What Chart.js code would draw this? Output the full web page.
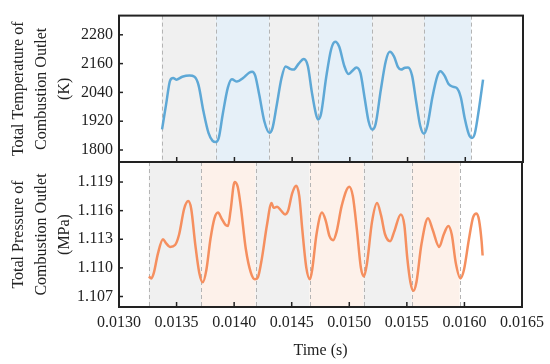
<!DOCTYPE html>
<html>
<head>
<meta charset="utf-8">
<script src="https://cdn.jsdelivr.net/npm/chart.js@4.4.1/dist/chart.umd.min.js"></script>
<style>
  html, body { margin: 0; padding: 0; background: #fff; }
  #wrap { position: relative; width: 550px; height: 364px; }
  #wrap canvas { position: absolute; left: 0; top: 0; }
</style>
</head>
<body>
<div id="wrap">
  <canvas id="grafikTemp" width="550" height="364"></canvas>
  <canvas id="grafikPress" width="550" height="364"></canvas>
</div>
<script>
// time axis (s)
const timeTicks = [0.0130, 0.0135, 0.0140, 0.0145, 0.0150, 0.0155, 0.0160, 0.0165];

// total temperature of combustion outlet (K)
const tempTicks = [1800, 1920, 2040, 2160, 2280];
const tempTime = [
  0.013373, 0.013408, 0.013443, 0.013469, 0.013496, 0.013548, 0.013610, 0.013654,
  0.013689, 0.013732, 0.013776, 0.013811, 0.013838, 0.013864, 0.013899, 0.013943,
  0.013978, 0.014022, 0.014075, 0.014127, 0.014154, 0.014180, 0.014215, 0.014259,
  0.014303, 0.014329, 0.014364, 0.014408, 0.014443, 0.014487, 0.014513, 0.014557,
  0.014601, 0.014636, 0.014671, 0.014706, 0.014724, 0.014750, 0.014794, 0.014838,
  0.014873, 0.014908, 0.014952, 0.014987, 0.015022, 0.015057, 0.015092, 0.015127,
  0.015162, 0.015195, 0.015224, 0.015268, 0.015311, 0.015346, 0.015382, 0.015417,
  0.015443, 0.015478, 0.015504, 0.015539, 0.015575, 0.015610, 0.015642, 0.015671,
  0.015715, 0.015759, 0.015785, 0.015820, 0.015855, 0.015890, 0.015925, 0.015961,
  0.015996, 0.016031, 0.016057, 0.016083, 0.016118, 0.016154,
];
const tempValue = [
  1886, 1990, 2090, 2100, 2093, 2105, 2110, 2105,
  2070, 1960, 1870, 1838, 1833, 1850, 1950, 2060,
  2095, 2085, 2100, 2122, 2126, 2110, 2030, 1920,
  1872, 1890, 1980, 2100, 2148, 2137, 2135, 2160,
  2179, 2150, 2040, 1950, 1927, 1950, 2100, 2220,
  2251, 2230, 2150, 2117, 2130, 2144, 2120, 2020,
  1920, 1885, 1910, 2050, 2170, 2209, 2190, 2145,
  2135, 2143, 2144, 2110, 2000, 1900, 1868, 1900,
  2020, 2110, 2128, 2110, 2075, 2064, 2059, 2020,
  1930, 1865, 1850, 1870, 1970, 2093,
];
const tempBands = [0.013370, 0.013838, 0.014303, 0.014724, 0.015195, 0.015642, 0.016051];

// total pressure of combustion outlet (MPa)
const pressTicks = [1.107, 1.110, 1.113, 1.116, 1.119];
const pressTime = [
  0.013259, 0.013281, 0.013303, 0.013338, 0.013382, 0.013408, 0.013443, 0.013487,
  0.013522, 0.013566, 0.013601, 0.013627, 0.013662, 0.013697, 0.013728, 0.013759,
  0.013794, 0.013829, 0.013860, 0.013890, 0.013925, 0.013947, 0.013969, 0.014004,
  0.014031, 0.014057, 0.014101, 0.014145, 0.014180, 0.014206, 0.014241, 0.014285,
  0.014325, 0.014342, 0.014373, 0.014408, 0.014443, 0.014469, 0.014504, 0.014539,
  0.014566, 0.014592, 0.014627, 0.014658, 0.014680, 0.014715, 0.014763, 0.014794,
  0.014829, 0.014860, 0.014890, 0.014934, 0.015000, 0.015031, 0.015066, 0.015101,
  0.015127, 0.015154, 0.015197, 0.015241, 0.015276, 0.015311, 0.015355, 0.015390,
  0.015447, 0.015478, 0.015504, 0.015531, 0.015557, 0.015583, 0.015627, 0.015684,
  0.015724, 0.015781, 0.015820, 0.015860, 0.015890, 0.015925, 0.015965, 0.015996,
  0.016039, 0.016075, 0.016105, 0.016127, 0.016149, 0.016158,
];
const pressValue = [
  1.1091, 1.1089, 1.1095, 1.1115, 1.1130, 1.1126, 1.1122, 1.1124,
  1.1135, 1.1162, 1.1170, 1.1162, 1.1125, 1.1095, 1.1085, 1.1098,
  1.1130, 1.1152, 1.1158, 1.1152, 1.1145, 1.1144, 1.1160, 1.1190,
  1.1185, 1.1165, 1.1120, 1.1095, 1.1088, 1.1090, 1.1110, 1.1145,
  1.1168, 1.1163, 1.1164, 1.1160, 1.1156, 1.1160, 1.1178, 1.1186,
  1.1175, 1.1140, 1.1100, 1.1088, 1.1100, 1.1135, 1.1158, 1.1150,
  1.1133, 1.1129, 1.1138, 1.1165, 1.1185, 1.1175, 1.1140, 1.1100,
  1.1091, 1.1105, 1.1148, 1.1168, 1.1155, 1.1135, 1.1128, 1.1138,
  1.1156, 1.1145, 1.1110, 1.1085, 1.1076, 1.1085, 1.1125, 1.1152,
  1.1140, 1.1122, 1.1135, 1.1144, 1.1135, 1.1105, 1.1089, 1.1098,
  1.1130, 1.1153, 1.1157, 1.1150, 1.1128, 1.1113,
];
const pressBands = [0.013259, 0.013712, 0.014186, 0.014656, 0.015125, 0.015542, 0.015958];

const fontFamily = "'Liberation Serif', 'Times New Roman', serif";
const textColor = "#222";

// shaded bands, dashed separators, inner ticks and the frame
const panelPlugin = {
  id: "panel",
  beforeDatasetsDraw(chart, args, opts) {
    const { ctx, chartArea } = chart;
    const xs = chart.scales.x;
    ctx.save();
    for (let i = 0; i < opts.bands.length - 1; i++) {
      const a = xs.getPixelForValue(opts.bands[i]);
      const b = xs.getPixelForValue(opts.bands[i + 1]);
      ctx.fillStyle = opts.colors[i % 2];
      ctx.fillRect(a, chartArea.top, b - a, chartArea.bottom - chartArea.top);
    }
    ctx.strokeStyle = "#b4b4b4";
    ctx.lineWidth = 1;
    ctx.setLineDash([4, 3]);
    opts.bands.forEach((t) => {
      const x = Math.round(xs.getPixelForValue(t)) + 0.5;
      ctx.beginPath();
      ctx.moveTo(x, chartArea.top);
      ctx.lineTo(x, chartArea.bottom);
      ctx.stroke();
    });
    ctx.restore();
  },
  afterDraw(chart) {
    const { ctx, chartArea } = chart;
    const xs = chart.scales.x;
    const ys = chart.scales.y;
    ctx.save();
    ctx.strokeStyle = "#222";
    ctx.lineWidth = 1.5;
    timeTicks.forEach((t) => {
      const x = xs.getPixelForValue(t);
      if (x <= chartArea.left + 2 || x >= chartArea.right - 2) return;
      ctx.beginPath();
      ctx.moveTo(x, chartArea.bottom);
      ctx.lineTo(x, chartArea.bottom - 5);
      ctx.stroke();
    });
    ys.ticks.forEach((tk) => {
      const y = ys.getPixelForValue(tk.value);
      ctx.beginPath();
      ctx.moveTo(chartArea.left, y);
      ctx.lineTo(chartArea.left + 4, y);
      ctx.stroke();
    });
    ctx.lineWidth = 2;
    ctx.strokeRect(chartArea.left, chartArea.top, chartArea.right - chartArea.left, chartArea.bottom - chartArea.top);
    ctx.restore();
  },
};

function makePanel(canvasId, cfg) {
  const points = cfg.time.map((t, i) => ({ x: t, y: cfg.value[i] }));
  return new Chart(document.getElementById(canvasId), {
    type: "line",
    data: {
      datasets: [
        {
          data: points,
          borderColor: cfg.lineColor,
          borderWidth: 2.5,
          pointRadius: 0,
          cubicInterpolationMode: "monotone",
          fill: false,
        },
      ],
    },
    plugins: [panelPlugin],
    options: {
      responsive: false,
      animation: false,
      events: [],
      layout: { padding: cfg.padding },
      plugins: {
        legend: { display: false },
        tooltip: { enabled: false },
        panel: { bands: cfg.bands, colors: cfg.bandColors },
      },
      scales: {
        x: {
          type: "linear",
          display: cfg.showX,
          min: 0.013,
          max: 0.0165,
          afterBuildTicks: (scale) => {
            scale.ticks = timeTicks.map((v) => ({ value: v }));
          },
          afterFit: (scale) => {
            scale.height = cfg.showX ? 57 : 0;
          },
          grid: { display: false, drawTicks: false },
          border: { display: false },
          ticks: {
            padding: 6,
            maxRotation: 0,
            autoSkip: false,
            color: textColor,
            font: { family: fontFamily, size: 16 },
            callback: (v) => Number(v).toFixed(4),
          },
          title: {
            display: true,
            text: "Time (s)",
            color: textColor,
            padding: { top: 0, bottom: 4 },
            font: { family: fontFamily, size: 16 },
          },
        },
        y: {
          min: cfg.yMin,
          max: cfg.yMax,
          afterBuildTicks: (scale) => {
            scale.ticks = cfg.ticks.map((v) => ({ value: v }));
          },
          afterFit: (scale) => {
            scale.width = 119;
          },
          grid: { display: false, drawTicks: false },
          border: { display: false },
          ticks: {
            padding: 6,
            color: textColor,
            font: { family: fontFamily, size: 16 },
            callback: (v) => Number(v).toFixed(cfg.decimals),
          },
          title: {
            display: true,
            text: cfg.title,
            color: textColor,
            padding: { top: 7.5, bottom: 0 },
            font: { family: fontFamily, size: 16, lineHeight: "23px" },
          },
        },
      },
    },
  });
}

makePanel("grafikTemp", {
  time: tempTime,
  value: tempValue,
  ticks: tempTicks,
  bands: tempBands,
  bandColors: ["#f0f0f0", "#e6f0f8"],
  lineColor: "#5ea8d6",
  yMin: 1750,
  yMax: 2360,
  decimals: 0,
  showX: false,
  title: ["Total Temperature of", "Combustion Outlet", "(K)"],
  padding: { top: 15, right: 27, bottom: 202, left: 0 },
});

makePanel("grafikPress", {
  time: pressTime,
  value: pressValue,
  ticks: pressTicks,
  bands: pressBands,
  bandColors: ["#f0f0f0", "#fdf1ea"],
  lineColor: "#f58f5f",
  yMin: 1.1059,
  yMax: 1.1211,
  decimals: 3,
  showX: true,
  title: ["Total Pressure of", "Combustion Outlet", "(MPa)"],
  padding: { top: 162, right: 27, bottom: 0, left: 0 },
});
</script>
</body>
</html>
